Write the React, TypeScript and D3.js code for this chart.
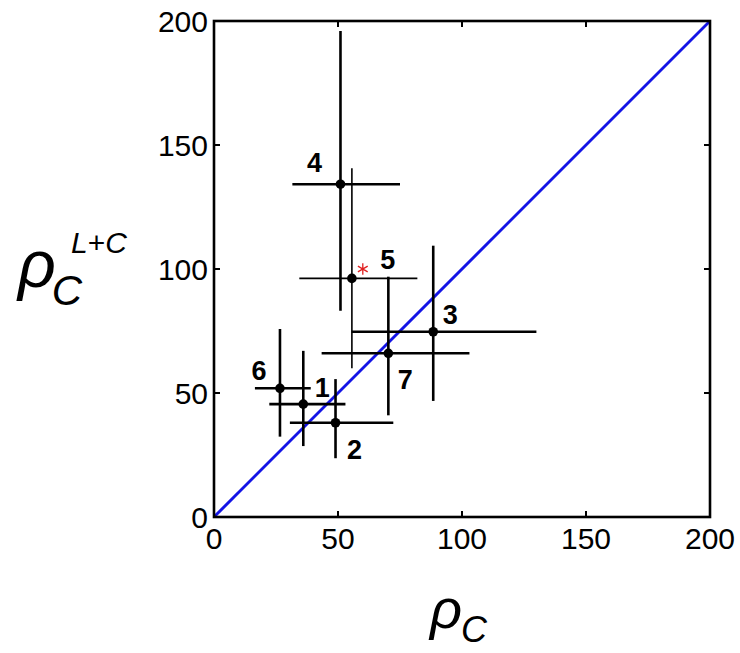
import React from "react";
import * as d3 from "d3";

// Cluster estimates: rho_C (x) against rho_C^{L+C} (y), with error-bar extents
const ids = ["1", "2", "3", "4", "5", "6", "7"];
const rhoC = [36, 49, 88.4, 51, 55.6, 26.6, 70.3];
const rhoLC = [45.5, 38, 74.7, 134.2, 96.2, 51.9, 66];
const xLow = [22.3, 30.6, 55.5, 31.6, 34.4, 16.5, 43.4];
const xHigh = [53, 72.3, 130, 75, 82, 39, 103];
const yLow = [28.6, 23.7, 46.8, 83.2, 60, 32.4, 41];
const yHigh = [67, 55.6, 109.4, 196, 140.6, 75.8, 96.9];
// Label offsets (px) from each point
const labelDx = [19, 19, 17, -26, 36, -21, 17];
const labelDy = [-16, 27, -17, -21, -18, -17, 27];
// Thin error bars for cluster 5
const thinBars = ["5"];

// Reference marker
const starX = [60];
const starY = [100];

const ticks = [0, 50, 100, 150, 200];
const domain: [number, number] = [0, 200];

const W = 740;
const H = 653;
const left = 214;
const right = 710;
const top = 21;
const bottom = 517;
const font = "'Liberation Sans', Arial, Helvetica, sans-serif";

export default function App() {
  const x = d3.scaleLinear().domain(domain).range([left, right]);
  const y = d3.scaleLinear().domain(domain).range([bottom, top]);
  const tickLen = 6;
  const star = d3.symbol(d3.symbolAsterisk, 90)() as string;

  return (
    <svg
      width={W}
      height={H}
      style={{ position: "absolute", left: 0, top: 0, background: "#fff" }}
      fontFamily={font}
    >
      <rect x={0} y={0} width={W} height={H} fill="#fff" />

      {/* identity line */}
      <line
        x1={x(domain[0])}
        y1={y(domain[0])}
        x2={x(domain[1])}
        y2={y(domain[1])}
        stroke="#1414e6"
        strokeWidth={2.9}
      />

      {/* error bars */}
      {ids.map((id, i) => {
        const sw = thinBars.includes(id) ? 1.6 : 2.6;
        return (
          <g key={"e" + id} stroke="#000" strokeWidth={sw}>
            <line x1={x(xLow[i])} x2={x(xHigh[i])} y1={y(rhoLC[i])} y2={y(rhoLC[i])} />
            <line x1={x(rhoC[i])} x2={x(rhoC[i])} y1={y(yLow[i])} y2={y(yHigh[i])} />
          </g>
        );
      })}

      {/* points */}
      {ids.map((id, i) => (
        <circle key={"p" + id} cx={x(rhoC[i])} cy={y(rhoLC[i])} r={4.8} fill="#000" />
      ))}

      {/* labels */}
      {ids.map((id, i) => (
        <text
          key={"l" + id}
          x={x(rhoC[i]) + labelDx[i]}
          y={y(rhoLC[i]) + labelDy[i]}
          textAnchor="middle"
          dominantBaseline="central"
          fontSize={27}
          fontWeight="bold"
          fill="#000"
        >
          {id}
        </text>
      ))}

      {/* asterisk marker */}
      {starX.map((sx, i) => (
        <path
          key={"s" + i}
          d={star}
          transform={`translate(${x(sx)},${y(starY[i])})`}
          fill="none"
          stroke="#e02020"
          strokeWidth={1.3}
        />
      ))}

      {/* axes box */}
      <rect
        x={left}
        y={top}
        width={right - left}
        height={bottom - top}
        fill="none"
        stroke="#000"
        strokeWidth={2.6}
      />

      {/* ticks */}
      {ticks.map((t) => (
        <g key={"t" + t} stroke="#000" strokeWidth={2}>
          <line x1={x(t)} x2={x(t)} y1={bottom} y2={bottom - tickLen} />
          <line x1={x(t)} x2={x(t)} y1={top} y2={top + tickLen} />
          <line x1={left} x2={left + tickLen} y1={y(t)} y2={y(t)} />
          <line x1={right} x2={right - tickLen} y1={y(t)} y2={y(t)} />
        </g>
      ))}

      {/* tick labels */}
      {ticks.map((t) => (
        <text
          key={"xl" + t}
          x={x(t)}
          y={bottom + 32}
          textAnchor="middle"
          fontSize={30}
          fill="#000"
        >
          {t}
        </text>
      ))}
      {ticks.map((t) => (
        <text
          key={"yl" + t}
          x={left - 6}
          y={y(t)}
          textAnchor="end"
          dominantBaseline="central"
          fontSize={30}
          fill="#000"
        >
          {t}
        </text>
      ))}

      {/* x-axis title */}
      <text x={430} y={628} fill="#000" fontStyle="italic">
        <tspan fontSize={56}>ρ</tspan>
        <tspan fontSize={36} dx={-1} dy={14}>C</tspan>
      </text>

      {/* y-axis title */}
      <text x={18} y={287} fill="#000" fontStyle="italic">
        <tspan fontSize={66}>ρ</tspan>
        <tspan fontSize={42} dx={-4} dy={18}>C</tspan>
      </text>
      <text x={71} y={253} fill="#000" fontSize={30}>
        <tspan fontStyle="italic">L</tspan>
        <tspan>+</tspan>
        <tspan fontStyle="italic">C</tspan>
      </text>
    </svg>
  );
}
